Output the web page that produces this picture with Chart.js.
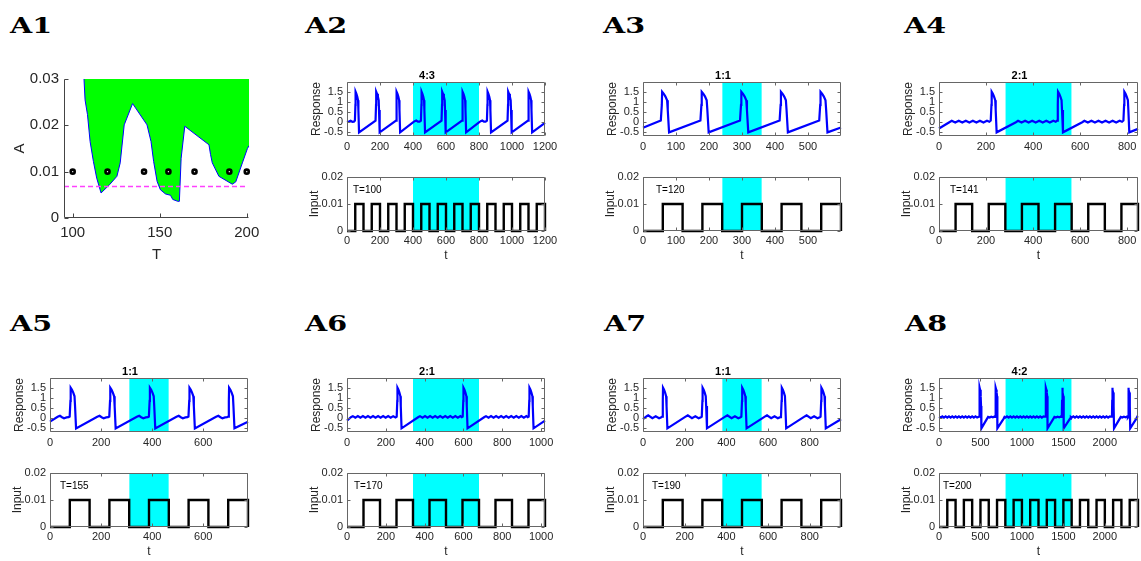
<!DOCTYPE html>
<html>
<head>
<meta charset="utf-8">
<title>Locking patterns</title>
<script src="https://cdn.jsdelivr.net/npm/chart.js@4.4.1/dist/chart.umd.min.js"></script>
<style>
  html, body { margin: 0; padding: 0; background: #fff; overflow: hidden; }
  body { position: relative; width: 1141px; height: 561px; }
  canvas { position: absolute; }
  .lab { position: absolute; font-family: "DejaVu Serif", serif; font-weight: bold; font-size: 22px; line-height: 22px; transform: scaleX(1.3); transform-origin: 0 0; color: #000; }
</style>
</head>
<body>
<div class="lab" style="left:10px;top:14px">A1</div>
<div class="lab" style="left:305px;top:14px">A2</div>
<div class="lab" style="left:603px;top:14px">A3</div>
<div class="lab" style="left:904px;top:14px">A4</div>
<div class="lab" style="left:10px;top:312px">A5</div>
<div class="lab" style="left:305px;top:312px">A6</div>
<div class="lab" style="left:604px;top:312px">A7</div>
<div class="lab" style="left:905px;top:312px">A8</div>
<script>
// ---- A1 : locking region in the (T, A) plane ----
var boundT = [106.5, 107.1, 108.5, 110, 111.9, 113.8, 116.3, 121.2, 125.4, 127.3, 129.6, 134.4, 142.7, 145, 146.5, 148.5, 150.4, 153.3, 156.2, 157.5, 160.4, 161.3, 162.3, 164.4, 178.3, 179.2, 180.2, 184, 191.7, 193.7, 197.5, 200.4, 201.3];
var boundA = [0.030, 0.0255, 0.0223, 0.0165, 0.0122, 0.0086, 0.0054, 0.0072, 0.0090, 0.0119, 0.0201, 0.0247, 0.0201, 0.0165, 0.0122, 0.0079, 0.0061, 0.0052, 0.0049, 0.0040, 0.0036, 0.0036, 0.0129, 0.0198, 0.0158, 0.0137, 0.0119, 0.0090, 0.0073, 0.0078, 0.0119, 0.0150, 0.0156];
var dotT = [100, 120, 141, 155, 170, 190, 200];
var dotA = [0.01, 0.01, 0.01, 0.01, 0.01, 0.01, 0.01];
var threshT = [95, 199.5];
var threshA = [0.0068, 0.0068];
var a1TicksT = [100, 150, 200];
var a1TicksA = [0, 0.01, 0.02, 0.03];

// ---- A2..A8 : response / input traces ----
// spike shape (time from peak, response)
var spikeDt = [-4, -1, 0, 5, 10, 15, 17, 21];
var spikeV = [0.08, 0.85, 1.5, 1.4, 1.26, 1.08, 0.6, -0.5];

var respTicks = [-0.5, 0, 0.5, 1, 1.5];
var inputTicks = [0, 0.01, 0.02];
var inputAmp = 0.01;

var ratios = ['4:3', '1:1', '2:1', '1:1', '2:1', '1:1', '4:2'];
var periodLabels = ['T=100', 'T=120', 'T=141', 'T=155', 'T=170', 'T=190', 'T=200'];
var tEnd = [1200, 600, 846, 775, 1020, 950, 2400];
var bands = [[400, 800], [240, 360], [282, 564], [310, 465], [340, 680], [380, 570], [800, 1600]];
var tTicks = [
  [0, 200, 400, 600, 800, 1000, 1200],
  [0, 100, 200, 300, 400, 500],
  [0, 200, 400, 600, 800],
  [0, 200, 400, 600],
  [0, 200, 400, 600, 800, 1000],
  [0, 200, 400, 600, 800],
  [0, 500, 1000, 1500, 2000]
];

var spikesA2 = [52, 177, 301, 452, 577, 701, 852, 977, 1101];
var baseA2 = [[0, 0.0], [12, 0.03], [22, 0.07], [32, 0.02], [42, 0.03], [398, -0.02], [410, 0.05], [420, 0.08], [430, 0.03], [440, 0.03], [798, -0.02], [810, 0.05], [820, 0.08], [830, 0.03], [840, 0.03], [1200, -0.03]];
var onA2 = [50, 150, 250, 350, 450, 550, 650, 750, 850, 950, 1050, 1150];
var offA2 = [100, 200, 300, 400, 500, 600, 700, 800, 900, 1000, 1100, 1200];

var spikesA3 = [58, 178, 298, 418, 538];
var baseA3 = [[0, -0.27], [600, -0.26]];
var onA3 = [60, 180, 300, 420, 540];
var offA3 = [120, 240, 360, 480, 600];

var spikesA4 = [224, 506, 788];
var baseA4 = [[0, -0.31], [44, 0.0], [54, 0.07], [69, -0.02], [84, 0.07], [99, -0.02], [114, 0.07], [129, -0.02], [144, 0.07], [159, -0.02], [174, 0.07], [189, -0.02], [204, 0.07], [214, 0.02],
  [327, 0.0], [336, 0.07], [351, -0.02], [366, 0.07], [381, -0.02], [396, 0.07], [411, -0.02], [426, 0.07], [441, -0.02], [456, 0.07], [471, -0.02], [486, 0.07], [496, 0.02],
  [609, 0.0], [618, 0.07], [633, -0.02], [648, 0.07], [663, -0.02], [678, 0.07], [693, -0.02], [708, 0.07], [723, -0.02], [738, 0.07], [753, -0.02], [768, 0.07], [778, 0.02],
  [846, -0.33]];
var onA4 = [70.5, 211.5, 352.5, 493.5, 634.5, 775.5];
var offA4 = [141, 282, 423, 564, 705, 846];

var spikesA5 = [81, 236, 391, 546, 701];
var baseA5 = [[0, -0.17], [30, 0.07], [39, 0.12], [47, 0.05], [55, 0.0], [65, 0.04], [73, 0.05],
  [185, 0.07], [194, 0.12], [202, 0.05], [210, 0.0], [220, 0.04], [228, 0.05],
  [340, 0.07], [349, 0.12], [357, 0.05], [365, 0.0], [375, 0.04], [383, 0.05],
  [495, 0.07], [504, 0.12], [512, 0.05], [520, 0.0], [530, 0.04], [538, 0.05],
  [650, 0.07], [659, 0.12], [667, 0.05], [675, 0.0], [685, 0.04], [693, 0.05],
  [775, -0.17]];
var onA5 = [77.5, 232.5, 387.5, 542.5, 697.5];
var offA5 = [155, 310, 465, 620, 775];

var spikesA6 = [260, 600, 940];
var baseA6 = [[0, -0.12], [22, 0.06], [30, 0.1], [43, 0.02], [56, 0.1], [69, 0.02], [82, 0.1], [95, 0.02], [108, 0.1], [121, 0.02], [134, 0.1], [147, 0.02], [160, 0.1], [173, 0.02], [186, 0.1], [199, 0.02], [212, 0.1], [225, 0.02], [238, 0.1], [250, 0.04],
  [368, 0.06], [376, 0.1], [389, 0.02], [402, 0.1], [415, 0.02], [428, 0.1], [441, 0.02], [454, 0.1], [467, 0.02], [480, 0.1], [493, 0.02], [506, 0.1], [519, 0.02], [532, 0.1], [545, 0.02], [558, 0.1], [571, 0.02], [584, 0.1], [591, 0.05],
  [708, 0.06], [716, 0.1], [729, 0.02], [742, 0.1], [755, 0.02], [768, 0.1], [781, 0.02], [794, 0.1], [807, 0.02], [820, 0.1], [833, 0.02], [846, 0.1], [859, 0.02], [872, 0.1], [885, 0.02], [898, 0.1], [911, 0.02], [924, 0.1], [931, 0.05],
  [1020, -0.12]];
var onA6 = [85, 255, 425, 595, 765, 935];
var offA6 = [170, 340, 510, 680, 850, 1020];

var spikesA7 = [96, 286, 476, 666, 856];
var baseA7 = [[0, -0.05], [18, 0.1], [25, 0.14], [45, 0.0], [61, 0.09], [77, 0.0], [88, 0.05],
  [208, 0.1], [215, 0.14], [235, 0.0], [251, 0.09], [267, 0.0], [278, 0.05],
  [398, 0.1], [405, 0.14], [425, 0.0], [441, 0.09], [457, 0.0], [468, 0.05],
  [588, 0.1], [595, 0.14], [615, 0.0], [631, 0.09], [647, 0.0], [658, 0.05],
  [778, 0.1], [785, 0.14], [805, 0.0], [821, 0.09], [837, 0.0], [848, 0.05],
  [950, -0.05]];
var onA7 = [95, 285, 475, 665, 855];
var offA7 = [190, 380, 570, 760, 950];

var spikesA8 = [490, 685, 1290, 1485, 2090, 2285];
var baseA8 = [[0, 0.07], [20, 0.03], [40, 0.09], [60, 0.03], [80, 0.09], [100, 0.03], [120, 0.09], [140, 0.03], [160, 0.09], [180, 0.03], [200, 0.09], [220, 0.03], [240, 0.09], [260, 0.03], [280, 0.09], [300, 0.03], [320, 0.09], [340, 0.03], [360, 0.09], [380, 0.03], [400, 0.09], [420, 0.03], [440, 0.09], [460, 0.03], [480, 0.07],
  [580, -0.02], [592, 0.06], [610, 0.03], [630, 0.07], [650, 0.04], [668, 0.08], [678, 0.06],
  [780, -0.02], [790, 0.06], [800, 0.03], [820, 0.09], [840, 0.03], [860, 0.09], [880, 0.03], [900, 0.09], [920, 0.03], [940, 0.09], [960, 0.03], [980, 0.09], [1000, 0.03], [1020, 0.09], [1040, 0.03], [1060, 0.09], [1080, 0.03], [1100, 0.09], [1120, 0.03], [1140, 0.09], [1160, 0.03], [1180, 0.09], [1200, 0.03], [1220, 0.09], [1240, 0.03], [1260, 0.09], [1280, 0.07],
  [1380, -0.02], [1392, 0.06], [1410, 0.03], [1430, 0.07], [1450, 0.04], [1468, 0.08], [1478, 0.06],
  [1580, -0.02], [1590, 0.06], [1600, 0.03], [1620, 0.09], [1640, 0.03], [1660, 0.09], [1680, 0.03], [1700, 0.09], [1720, 0.03], [1740, 0.09], [1760, 0.03], [1780, 0.09], [1800, 0.03], [1820, 0.09], [1840, 0.03], [1860, 0.09], [1880, 0.03], [1900, 0.09], [1920, 0.03], [1940, 0.09], [1960, 0.03], [1980, 0.09], [2000, 0.03], [2020, 0.09], [2040, 0.03], [2060, 0.09], [2080, 0.07],
  [2180, -0.02], [2192, 0.06], [2210, 0.03], [2230, 0.07], [2250, 0.04], [2268, 0.08], [2278, 0.06],
  [2380, -0.02], [2390, 0.06], [2400, 0.03]];
var onA8 = [100, 300, 500, 700, 900, 1100, 1300, 1500, 1700, 1900, 2100, 2300];
var offA8 = [200, 400, 600, 800, 1000, 1200, 1400, 1600, 1800, 2000, 2200, 2400];

var FONT = '"Liberation Sans", Arial, Helvetica, sans-serif';
var TXT = '#262626';
var respMin = -0.68, respMax = 1.98;

// box + inward tick marks, MATLAB style
var axesBox = {
  id: 'axesBox',
  afterDatasetsDraw: function (chart, args, o) {
    var ctx = chart.ctx, a = chart.chartArea, xs = chart.scales.x, ys = chart.scales.y;
    var len = o.len || 3;
    var l = Math.round(a.left) + 0.5, r = Math.round(a.right) - 0.5;
    var t = Math.round(a.top) + 0.5, b = Math.round(a.bottom) - 0.5;
    ctx.save();
    ctx.strokeStyle = o.color || '#666';
    ctx.lineWidth = 1;
    ctx.beginPath();
    ctx.moveTo(l, t); ctx.lineTo(l, b); ctx.lineTo(r, b);
    if (o.box) { ctx.lineTo(r, t); ctx.lineTo(l, t); }
    xs.ticks.forEach(function (tk) {
      var px = Math.round(xs.getPixelForValue(tk.value)) + 0.5;
      ctx.moveTo(px, b); ctx.lineTo(px, b - len);
      if (o.box) { ctx.moveTo(px, t); ctx.lineTo(px, t + len); }
    });
    ys.ticks.forEach(function (tk) {
      var py = Math.round(ys.getPixelForValue(tk.value)) + 0.5;
      ctx.moveTo(l, py); ctx.lineTo(l + len, py);
      if (o.box) { ctx.moveTo(r, py); ctx.lineTo(r - len, py); }
    });
    ctx.stroke();
    ctx.restore();
  }
};

// "T=..." note in the input panels
var cornerText = {
  id: 'cornerText',
  afterDatasetsDraw: function (chart, args, o) {
    if (!o.text) return;
    var a = chart.chartArea, ctx = chart.ctx;
    ctx.save();
    ctx.fillStyle = '#000';
    ctx.font = '10px ' + FONT;
    ctx.textBaseline = 'middle';
    ctx.fillText(o.text, a.left + o.dx, a.top + o.dy);
    ctx.restore();
  }
};

function linScale(min, max, ticks, o) {
  return {
    type: 'linear', min: min, max: max,
    afterBuildTicks: function (s) { s.ticks = ticks.map(function (v) { return {value: v}; }); },
    afterFit: function (s) {
      if (s.isHorizontal()) s.height = o.size; else s.width = o.size;
      s.paddingLeft = 0; s.paddingRight = 0; s.paddingTop = 0; s.paddingBottom = 0;
    },
    grid: {display: false, drawTicks: false},
    border: {display: false},
    ticks: {padding: o.pad, color: TXT, autoSkip: false, maxRotation: 0,
      font: {family: FONT, size: o.font},
      callback: function (v) { return String(v); }},
    title: {display: !!o.title, text: o.title || '', padding: 0, color: TXT,
      font: {family: FONT, size: o.tfont || 12}}
  };
}

function makeCanvas(left, top, w, h) {
  var c = document.createElement('canvas');
  c.width = w; c.height = h;
  c.style.left = left + 'px'; c.style.top = top + 'px';
  c.style.width = w + 'px'; c.style.height = h + 'px';
  document.body.appendChild(c);
  return c;
}

// g: plot area {left,right,top,bottom}, L/B: y-axis width / x-axis height
function makePanel(g, L, B, pt, pr, titleText, datasets, xs, ys, pluginOpts) {
  var pl = 2, pb = 2, th = titleText ? 13 : 0;
  var w = pl + L + (g.right - g.left) + pr;
  var h = pt + th + (g.bottom - g.top) + B + pb;
  var cv = makeCanvas(g.left - L - pl, g.top - th - pt, w, h);
  var plugins = {
    legend: {display: false},
    tooltip: {enabled: false},
    title: {display: !!titleText, text: titleText || '', padding: 0, color: '#000',
      font: {family: FONT, size: 11, weight: 'bold', lineHeight: '13px'}},
    axesBox: pluginOpts.box,
    cornerText: pluginOpts.text || {}
  };
  return new Chart(cv, {
    type: 'line',
    data: {datasets: datasets},
    options: {
      responsive: false, animation: false, devicePixelRatio: 1,
      layout: {padding: {left: pl, right: pr, top: pt, bottom: pb}},
      elements: {point: {radius: 0}, line: {tension: 0}},
      plugins: plugins,
      scales: {x: xs, y: ys}
    },
    plugins: [axesBox, cornerText]
  });
}

function respPoints(spikes, base) {
  var pts = [];
  base.forEach(function (p) { pts.push({x: p[0], y: p[1]}); });
  spikes.forEach(function (tp) {
    spikeDt.forEach(function (d, i) { pts.push({x: tp + d, y: spikeV[i]}); });
  });
  pts.sort(function (a, b) { return a.x - b.x; });
  return pts;
}

function inputPoints(on, off) {
  var pts = [{x: 0, y: 0}];
  for (var i = 0; i < on.length; i++) {
    pts.push({x: on[i], y: 0}, {x: on[i], y: inputAmp}, {x: off[i], y: inputAmp}, {x: off[i], y: 0});
  }
  return pts;
}

function bandSet(band, top) {
  return {data: [{x: band[0], y: top}, {x: band[1], y: top}], fill: 'start',
    backgroundColor: '#00ffff', borderColor: 'rgba(0,0,0,0)', borderWidth: 0, order: 2};
}

// ---- A1 ----
makePanel({left: 64, right: 249, top: 79, bottom: 218}, 53, 46, 10, 20, null, [
  {data: boundT.map(function (t, i) { return {x: t, y: boundA[i]}; }), fill: 'end',
    backgroundColor: '#00ff00', borderColor: '#0000ff', borderWidth: 1, order: 3},
  {data: threshT.map(function (t, i) { return {x: t, y: threshA[i]}; }), fill: false,
    borderColor: '#ff40ff', borderWidth: 1.5, borderDash: [5, 3], order: 2},
  {data: dotT.map(function (t, i) { return {x: t, y: dotA[i]}; }), showLine: false, clip: 6,
    pointRadius: 2, pointBorderWidth: 2.6, pointBorderColor: '#000', pointBackgroundColor: '#fff', order: 1}
],
  linScale(95, 201.3, a1TicksT, {size: 46, pad: 6, font: 15, title: 'T', tfont: 15}),
  linScale(0, 0.03, a1TicksA, {size: 53, pad: 5, font: 15, title: 'A', tfont: 15}),
  {box: {box: false, len: 4, color: '#444'}});

// ---- A2..A8 ----
var spikeSets = [spikesA2, spikesA3, spikesA4, spikesA5, spikesA6, spikesA7, spikesA8];
var baseSets = [baseA2, baseA3, baseA4, baseA5, baseA6, baseA7, baseA8];
var onSets = [onA2, onA3, onA4, onA5, onA6, onA7, onA8];
var offSets = [offA2, offA3, offA4, offA5, offA6, offA7, offA8];

var rows = [{rt: 82, rb: 136, it: 177, ib: 231}, {rt: 378, rb: 432, it: 473, ib: 527}];
var layoutP = [
  {row: 0, left: 347, right: 545, dx: 6},
  {row: 0, left: 643, right: 841, dx: 13},
  {row: 0, left: 939, right: 1138, dx: 11},
  {row: 1, left: 50, right: 248, dx: 10},
  {row: 1, left: 347, right: 545, dx: 7},
  {row: 1, left: 643, right: 841, dx: 9},
  {row: 1, left: 939, right: 1138, dx: 4}
];

layoutP.forEach(function (p, k) {
  var r = rows[p.row];
  makePanel({left: p.left, right: p.right, top: r.rt, bottom: r.rb}, 38, 20, 2, 16, ratios[k], [
    {data: respPoints(spikeSets[k], baseSets[k]), borderColor: '#0000ff', borderWidth: 2.2, fill: false, clip: 4, order: 1},
    bandSet(bands[k], respMax)
  ],
    linScale(0, tEnd[k], tTicks[k], {size: 20, pad: 4, font: 11}),
    linScale(respMin, respMax, respTicks, {size: 38, pad: 4, font: 11, title: 'Response'}),
    {box: {box: true, len: 3, color: '#666'}});

  makePanel({left: p.left, right: p.right, top: r.it, bottom: r.ib}, 40, 32, 8, 16, null, [
    {data: inputPoints(onSets[k], offSets[k]), borderColor: '#000', borderWidth: 2.4, fill: false, clip: 4, order: 1},
    bandSet(bands[k], 0.02)
  ],
    linScale(0, tEnd[k], tTicks[k], {size: 32, pad: 3, font: 11, title: 't'}),
    linScale(0, 0.02, inputTicks, {size: 40, pad: 4, font: 11, title: 'Input'}),
    {box: {box: true, len: 3, color: '#666'}, text: {text: periodLabels[k], dx: p.dx, dy: 13}});
});
</script>
</body>
</html>
